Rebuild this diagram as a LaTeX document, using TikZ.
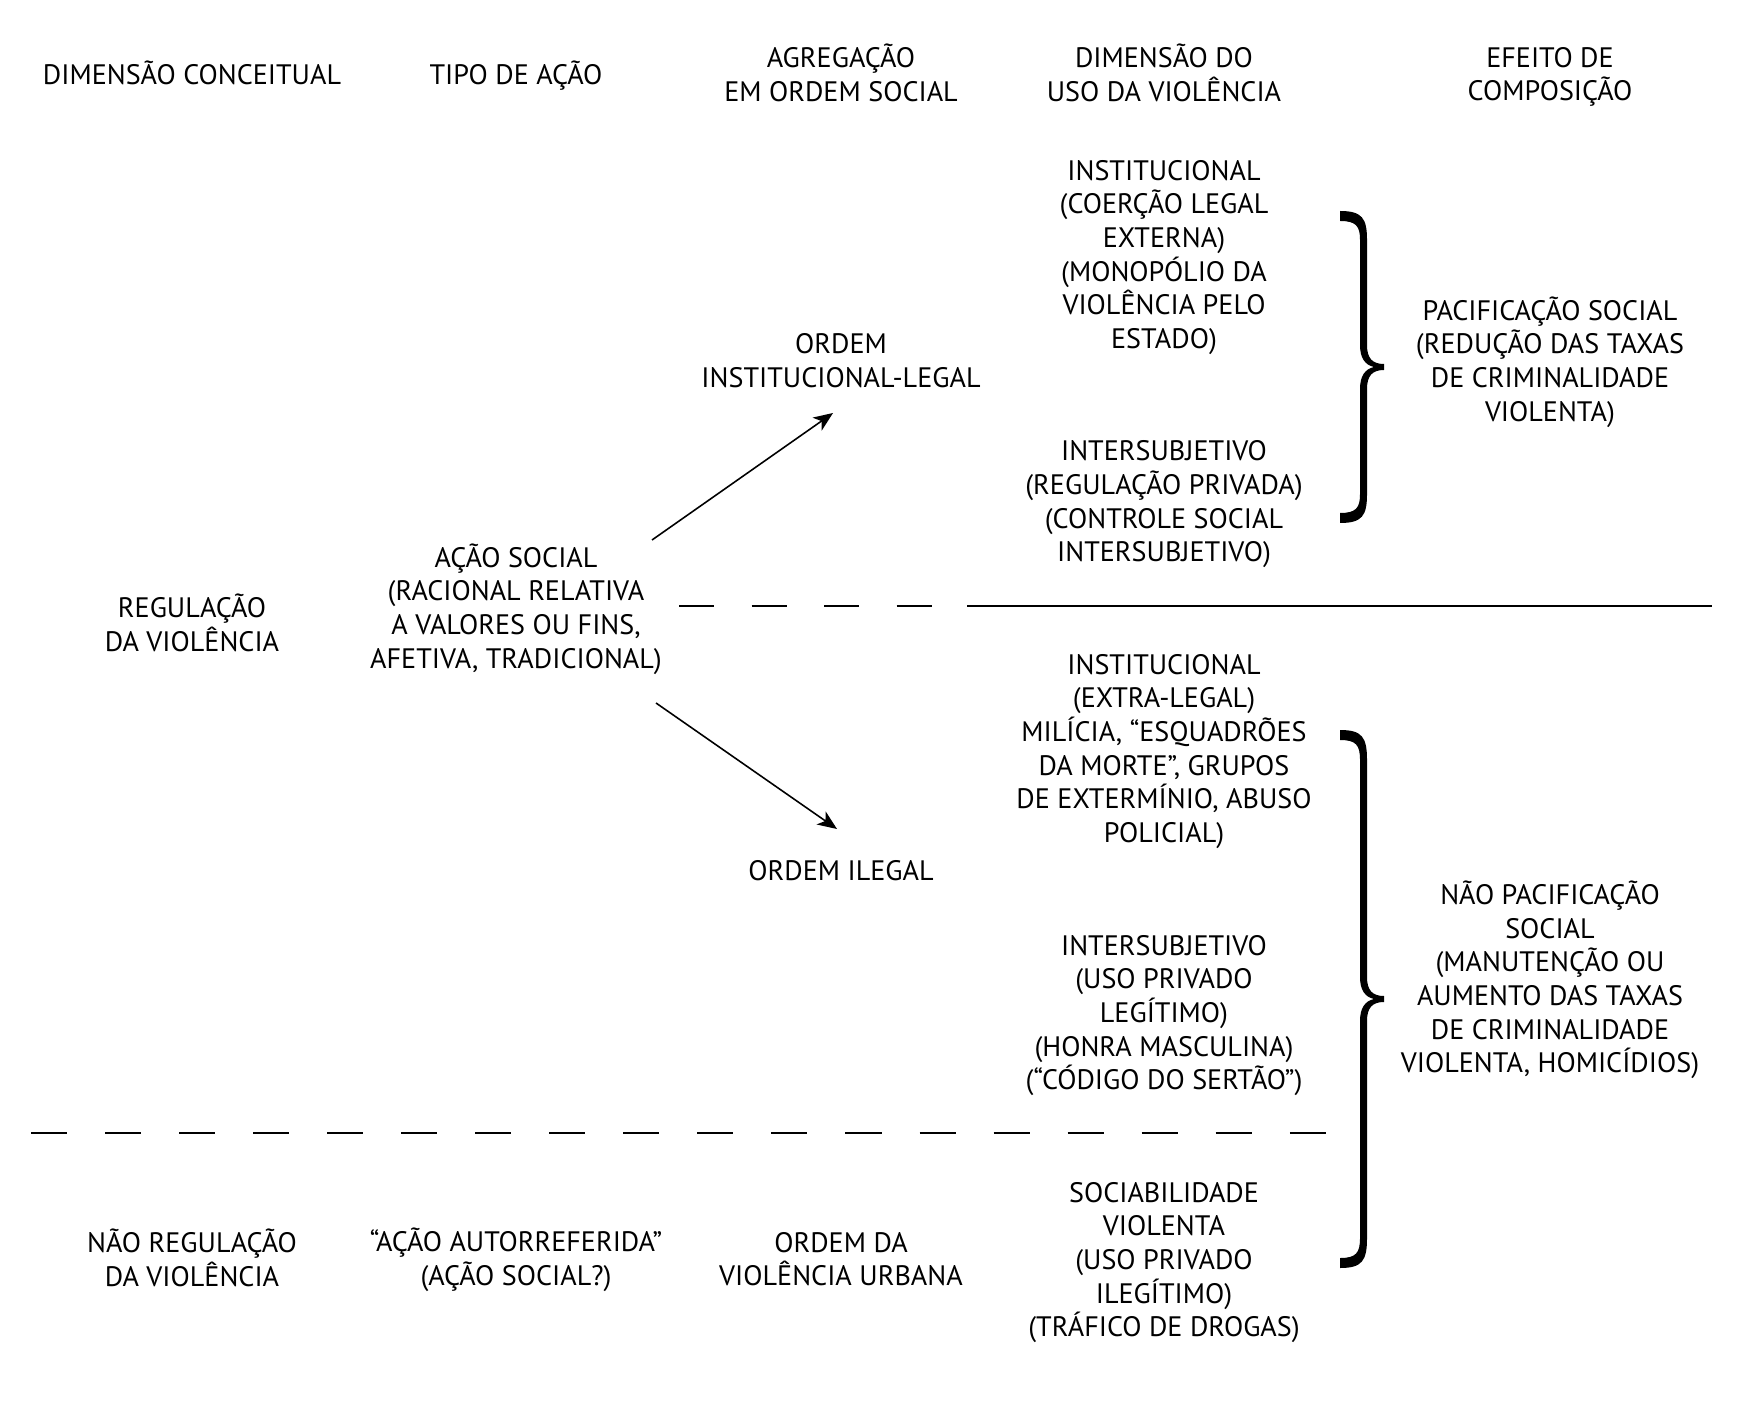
\documentclass[tikz,border=0pt]{standalone}
\usepackage{fontspec}
\setmainfont{PT Sans}
\usetikzlibrary{arrows.meta}
\begin{document}
\begin{tikzpicture}[x=0.01cm,y=-0.01cm,
  txt/.style={align=center, font=\fontsize{8}{9.56}\selectfont, inner sep=0pt},
  arr/.style={-{Stealth[length=5.5pt,width=4.5pt,inset=1.5pt]}, line width=0.45pt},
  dash1/.style={line width=0.5pt, dash pattern=on 0.35cm off 0.375cm},
  dash2/.style={line width=0.5pt, dash pattern=on 0.36cm off 0.38cm},
  bracefill/.style={fill=black, draw=none}]
\useasboundingbox (0,0) rectangle (1755,1428);
\fill[white] (0,0) rectangle (1755,1428);

% headers
\node[txt] (h1) at (192,73) {DIMENSÃO CONCEITUAL};
\node[txt] (h2) at (516,76) {TIPO DE AÇÃO};
\node[txt] (h3) at (841,73) {AGREGAÇÃO\\EM ORDEM SOCIAL};
\node[txt] (h4) at (1164,73) {DIMENSÃO DO\\USO DA VIOLÊNCIA};
\node[txt] (h5) at (1550,77) {EFEITO DE\\COMPOSIÇÃO};

% upper part
\node[txt] (inst1) at (1164,257.5) {INSTITUCIONAL\\(COERÇÃO LEGAL\\EXTERNA)\\(MONOPÓLIO DA\\VIOLÊNCIA PELO\\ESTADO)};
\node[txt] (ordinst) at (841,360.5) {ORDEM\\INSTITUCIONAL-LEGAL};
\node[txt] (inter1) at (1164,504.5) {INTERSUBJETIVO\\(REGULAÇÃO PRIVADA)\\(CONTROLE SOCIAL\\INTERSUBJETIVO)};
\node[txt] (pacif) at (1550,362) {PACIFICAÇÃO SOCIAL\\(REDUÇÃO DAS TAXAS\\DE CRIMINALIDADE\\VIOLENTA)};

\node[txt] (acao) at (516,609) {AÇÃO SOCIAL\\(RACIONAL RELATIVA\\A VALORES OU FINS,\\AFETIVA, TRADICIONAL)};
\node[txt] (reg) at (192,623) {REGULAÇÃO\\DA VIOLÊNCIA};

% lower part
\node[txt] (inst2) at (1164,751.5) {INSTITUCIONAL\\(EXTRA-LEGAL)\\MILÍCIA, “ESQUADRÕES\\DA MORTE”, GRUPOS\\DE EXTERMÍNIO, ABUSO\\POLICIAL)};
\node[txt] (ordileg) at (841,871) {ORDEM ILEGAL};
\node[txt] (inter2) at (1164,1015.5) {INTERSUBJETIVO\\(USO PRIVADO\\LEGÍTIMO)\\(HONRA MASCULINA)\\(“CÓDIGO DO SERTÃO”)};
\node[txt] (naopacif) at (1550,980) {NÃO PACIFICAÇÃO\\SOCIAL\\(MANUTENÇÃO OU\\AUMENTO DAS TAXAS\\DE CRIMINALIDADE\\VIOLENTA, HOMICÍDIOS)};

\node[txt] (naoreg) at (192,1258) {NÃO REGULAÇÃO\\DA VIOLÊNCIA};
\node[txt] (autoref) at (516,1260) {“AÇÃO AUTORREFERIDA”\\(AÇÃO SOCIAL?)};
\node[txt] (ordurb) at (841,1259) {ORDEM DA\\VIOLÊNCIA URBANA};
\node[txt] (socviol) at (1164,1262.5) {SOCIABILIDADE\\VIOLENTA\\(USO PRIVADO\\ILEGÍTIMO)\\(TRÁFICO DE DROGAS)};

% arrows
\coordinate (a1s) at (652,540);
\coordinate (a1e) at (833,413);
\coordinate (a2s) at (656,703);
\coordinate (a2e) at (837,829);
\draw[arr] (a1s) -- (a1e);
\draw[arr] (a2s) -- (a2e);

% separator lines
\coordinate (d1s) at (679,606);
\coordinate (d1e) at (937,606);
\coordinate (l1s) at (967,606);
\coordinate (l1e) at (1712,606);
\draw[dash1] (d1s) -- (d1e);
\draw[line width=0.5pt] (l1s) -- (l1e);
\coordinate (d2s) at (31,1133);
\coordinate (d2e) at (1326,1133);
\draw[dash2] (d2s) -- (d2e);

% braces (filled shapes)
\fill[bracefill] (1340,211) .. controls (1362,211) and (1367,218) .. (1367,240)
  -- (1367,345) .. controls (1367,358) and (1372,364) .. (1384,364)
  -- (1384,370) .. controls (1372,370) and (1367,376) .. (1367,389)
  -- (1367,494) .. controls (1367,516) and (1362,523) .. (1340,523)
  -- (1340,513) .. controls (1356,513) and (1360,508) .. (1360,494)
  -- (1360,389) .. controls (1360,376) and (1365,369) .. (1374,367)
  .. controls (1365,365) and (1360,358) .. (1360,345)
  -- (1360,240) .. controls (1360,226) and (1356,221) .. (1340,221) -- cycle;
\fill[bracefill] (1340,730) .. controls (1362,730) and (1367,737) .. (1367,760)
  -- (1367,977) .. controls (1367,990) and (1372,996) .. (1384,996)
  -- (1384,1002) .. controls (1372,1002) and (1367,1008) .. (1367,1021)
  -- (1367,1238) .. controls (1367,1261) and (1362,1268) .. (1340,1268)
  -- (1340,1258) .. controls (1356,1258) and (1360,1253) .. (1360,1238)
  -- (1360,1021) .. controls (1360,1008) and (1365,1001) .. (1374,999)
  .. controls (1365,997) and (1360,990) .. (1360,977)
  -- (1360,760) .. controls (1360,745) and (1356,740) .. (1340,740) -- cycle;
\end{tikzpicture}
\end{document}
